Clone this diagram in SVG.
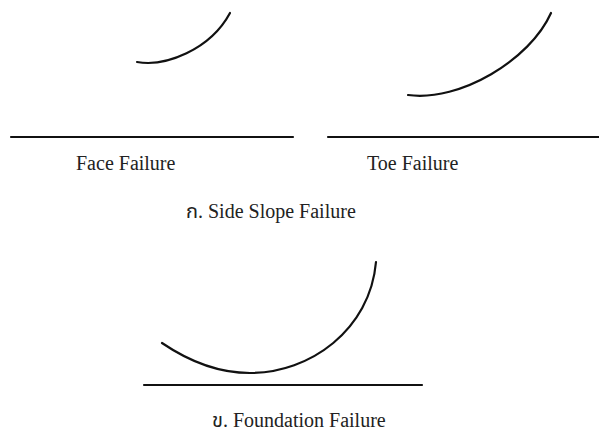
<svg xmlns="http://www.w3.org/2000/svg" width="599" height="438" viewBox="0 0 599 438">
<style>
.ln{stroke:#111;stroke-width:2.2;fill:none;stroke-linecap:round}
.t{font-family:"Liberation Serif","Noto Sans Thai","Noto Serif Thai","DejaVu Serif",serif;font-size:20px;fill:#222}
</style>
<rect width="599" height="438" fill="#fff"/>
<g id="face-failure">
<path class="ln" d="M137,62 C165,67 210,50 230,13"/>
<line class="ln" x1="11" y1="137" x2="293" y2="137"/>
<text class="t" x="76" y="170">Face Failure</text>
</g>
<g id="toe-failure">
<path class="ln" d="M408,95 C460,102 530,60 551,13"/>
<line class="ln" x1="328" y1="137" x2="599" y2="137"/>
<text class="t" x="367" y="170">Toe Failure</text>
</g>
<text class="t" x="186" y="218">ก. Side Slope Failure</text>
<g id="foundation-failure">
<path class="ln" d="M162,343 C190,362 220,373 250,373 C310,373 370,330 376,262"/>
<line class="ln" x1="144" y1="385" x2="422" y2="385"/>
<text class="t" x="212" y="427">ข. Foundation Failure</text>
</g>
</svg>
